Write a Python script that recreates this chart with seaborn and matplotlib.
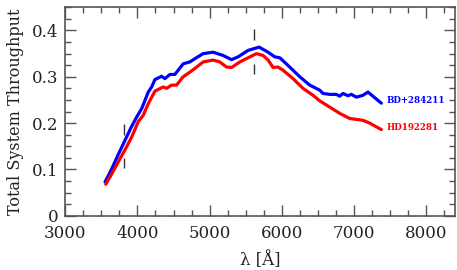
import numpy as np
import pandas as pd
import matplotlib
matplotlib.use("Agg")
import matplotlib.pyplot as plt
import seaborn as sns
from matplotlib.ticker import MultipleLocator

# ---- data ----
blue_wl = [3550, 3640, 3730, 3828, 3910, 3989, 4058, 4150, 4197, 4242, 4335, 4381, 4450,
           4519, 4634, 4727, 4796, 4911, 5050, 5188, 5305, 5396, 5535, 5687, 5812, 5904,
           5974, 6112, 6251, 6389, 6528, 6573, 6666, 6759, 6805, 6850, 6920, 6966, 7036,
           7127, 7197, 7266, 7382]
blue_tp = [0.073, 0.100, 0.131, 0.163, 0.190, 0.213, 0.231, 0.267, 0.278, 0.294, 0.301, 0.296, 0.305,
           0.305, 0.328, 0.332, 0.339, 0.350, 0.353, 0.346, 0.337, 0.343, 0.357, 0.364, 0.353, 0.343,
           0.341, 0.321, 0.300, 0.282, 0.271, 0.264, 0.262, 0.262, 0.258, 0.264, 0.259, 0.262, 0.256,
           0.260, 0.267, 0.258, 0.243]
red_wl = [3560, 3650, 3740, 3830, 3920, 4011, 4081, 4150, 4242, 4357, 4404, 4473, 4542, 4634,
          4727, 4796, 4911, 5050, 5143, 5235, 5305, 5420, 5535, 5651, 5743, 5812, 5881, 5950,
          6020, 6158, 6296, 6435, 6528, 6805, 6943, 7127, 7220, 7382]
red_tp = [0.068, 0.092, 0.118, 0.143, 0.170, 0.203, 0.217, 0.242, 0.269, 0.278, 0.275, 0.282, 0.282, 0.300,
          0.310, 0.318, 0.332, 0.336, 0.332, 0.321, 0.320, 0.332, 0.341, 0.350, 0.346, 0.336, 0.320, 0.321,
          0.314, 0.296, 0.275, 0.260, 0.248, 0.221, 0.210, 0.206, 0.200, 0.186]
star_names = ["BD+284211", "HD192281"]
star_colors = ["#0000ff", "#ff0000"]
label_pos_x = [7460, 7460]
label_pos_y = [0.249, 0.191]
mark_wl = [3820, 5620]
mark_lo = [[0.102, 0.124], [0.307, 0.328]]
mark_hi = [[0.174, 0.199], [0.379, 0.404]]
x_ticks = [3000, 4000, 5000, 6000, 7000, 8000]
y_ticks = [0, 0.1, 0.2, 0.3, 0.4]

df = pd.concat([
    pd.DataFrame({"wl": blue_wl, "tp": blue_tp, "star": star_names[0]}),
    pd.DataFrame({"wl": red_wl, "tp": red_tp, "star": star_names[1]}),
])

sns.set_style("ticks")
plt.rcParams["font.family"] = ["DejaVu Serif", "DejaVu Sans"]

fig = plt.figure(figsize=(4.57, 2.70), dpi=100)
ax = fig.add_axes([0.143, 0.201, 0.852, 0.772])

sns.lineplot(data=df, x="wl", y="tp", hue="star", palette=dict(zip(star_names, star_colors)),
             linewidth=2.3, legend=False, ax=ax, sort=False)

for w, lo, hi in zip(mark_wl, mark_lo, mark_hi):
    ax.vlines(w, lo[0], lo[1], color="#333333", linewidth=1.0)
    ax.vlines(w, hi[0], hi[1], color="#333333", linewidth=1.0)

for name, c, lx, ly in zip(star_names, star_colors, label_pos_x, label_pos_y):
    ax.text(lx, ly, name, color=c, fontsize=6.2, fontweight="bold", va="center", ha="left")

ax.set_xlim(3000, 8400)
ax.set_ylim(0, 0.45)
ax.set_xticks(x_ticks)
ax.set_yticks(y_ticks)
ax.set_yticklabels(["0" if v == 0 else f"{v:.1f}" for v in y_ticks])
ax.xaxis.set_minor_locator(MultipleLocator(250))
ax.yaxis.set_minor_locator(MultipleLocator(0.025))
ax.tick_params(which="both", direction="in", top=True, right=True, color="#555555", width=1.0)
ax.tick_params(which="major", length=8, labelsize=12, labelcolor="#222222")
ax.tick_params(axis="x", which="major", pad=7)
ax.tick_params(axis="y", which="major", pad=5)
ax.tick_params(which="minor", length=4)
for s in ax.spines.values():
    s.set_color("#555555")
    s.set_linewidth(1.2)

ax.set_xlabel("λ [Å]", fontsize=12, color="#222222", labelpad=6)
ax.set_ylabel("Total System Throughput", fontsize=11.5, color="#222222", labelpad=6)

fig.savefig("out.png", dpi=100)
